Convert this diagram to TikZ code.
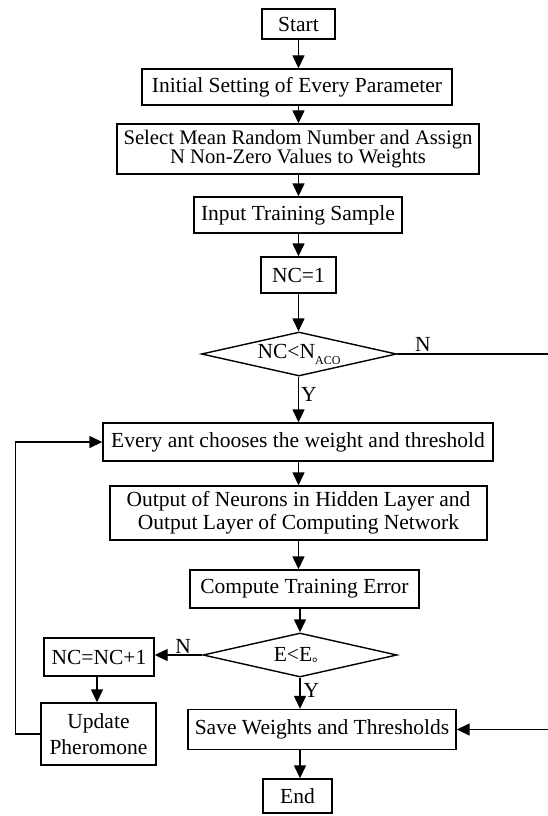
\documentclass[tikz,border=0pt]{standalone}
\usepackage{fontspec}
\setmainfont{Liberation Serif}
\newfontfamily\cjk{Noto Sans CJK SC}
\usetikzlibrary{shapes.geometric,arrows.meta}
\begin{document}
\begin{tikzpicture}[x=1pt,y=-1pt,
  every node/.style={font=\fontsize{21.5}{24}\selectfont},
  box/.style={draw,line width=1.4pt,inner sep=0pt,align=center},
  dia/.style={draw,line width=1.4pt,diamond,aspect=4.4,inner sep=0pt},
  arr/.style={line width=1.4pt,-{Triangle[length=13pt,width=12pt]}},
  ln/.style={line width=1.4pt},
  lbl/.style={inner sep=0pt}]
\useasboundingbox (0,0) rectangle (548,816);
\node[box,minimum width=73,minimum height=30] (start) at (298.5,24) {Start};
\node[box,minimum width=310,minimum height=36] (init) at (297,87) {Initial Setting of Every Parameter};
\node[box,minimum width=362,minimum height=50,font=\fontsize{20.7}{18}\selectfont] (select) at (298,149) {Select Mean Random Number and Assign\\N Non-Zero Values to Weights};
\node[box,minimum width=208,minimum height=36] (input) at (298,215) {Input Training Sample};
\node[box,minimum width=75,minimum height=36] (nc1) at (298.5,275) {NC=1};
\node[dia,minimum width=195,minimum height=44] (d1) at (299,354) {NC<N\raisebox{-6pt}{\fontsize{12}{12}\selectfont ACO}};
\node[box,minimum width=390,minimum height=38] (every) at (298,442) {Every ant chooses the weight and threshold};
\node[box,minimum width=377,minimum height=54,font=\fontsize{21.5}{23}\selectfont] (output) at (298.5,513) {Output of Neurons in Hidden Layer and\\Output Layer of Computing Network};
\node[box,minimum width=229,minimum height=38] (compute) at (304.5,589) {Compute Training Error};
\node[dia,minimum width=194,minimum height=44] (d2) at (300,655) {E<E{\cjk\fontsize{14}{14}\selectfont 。}};
\node[box,minimum width=110,minimum height=38] (ncinc) at (99,657) {NC=NC+1};
\node[box,minimum width=115,minimum height=62,font=\fontsize{21.5}{26}\selectfont] (update) at (98.5,734) {Update\\Pheromone};
\node[box,minimum width=268,minimum height=40] (save) at (322,729.5) {Save Weights and Thresholds};
\node[box,minimum width=69,minimum height=34] (end) at (297.5,796) {End};
\coordinate (spine) at (298.5,0);
\coordinate (rtop) at (548,354);
\coordinate (rbot) at (548,729.5);
\draw[arr] (start.south -| spine) -- (init.north -| spine);
\draw[arr] (init.south -| spine) -- (select.north -| spine);
\draw[arr] (select.south -| spine) -- (input.north -| spine);
\draw[arr] (input.south -| spine) -- (nc1.north -| spine);
\draw[arr] (nc1.south -| spine) -- (d1.north -| spine);
\draw[arr] (d1.south -| spine) -- (every.north -| spine) node[lbl,pos=0.4,right=2pt] {Y};
\draw[arr] (every.south -| spine) -- (output.north -| spine);
\draw[arr] (output.south -| spine) -- (compute.north -| spine);
\draw[arr] (compute.south -| d2.north) -- (d2.north);
\draw[arr] (d2.south) -- (d2.south |- save.north) node[lbl,pos=0.4,right=3pt] {Y};
\draw[arr] (save.south -| d2.south) -- (end.north -| d2.south);
\draw[arr] (d2.west) -- (d2.west -| ncinc.east) node[lbl,pos=0.4,above=1pt] {N};
\draw[arr] (ncinc.south -| 97,0) -- (update.north -| 97,0);
\draw[arr] (update.west) -- ++(-25,0) |- (every.west);
\draw[ln] (d1.east) -- (rtop) node[lbl,pos=0.17,above=2pt] {N};
\draw[arr] (rbot) -- (save.east);
\end{tikzpicture}
\end{document}
